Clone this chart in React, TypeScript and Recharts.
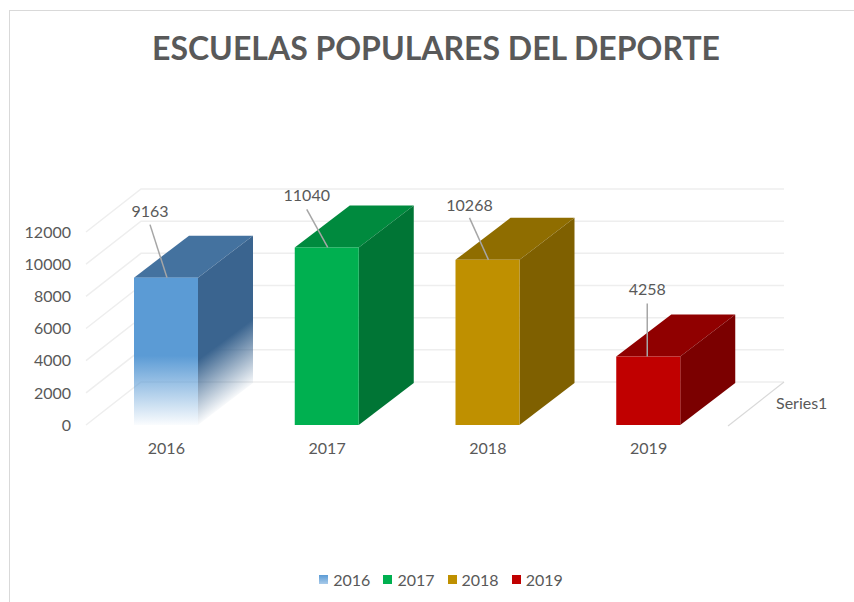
import { Bar, BarChart, CartesianGrid, LabelList, Legend, XAxis, YAxis } from "recharts";

const YEARS = ["2016", "2017", "2018", "2019"];
const VALUES = [9163, 11040, 10268, 4258];
const Y_TICKS = [0, 2000, 4000, 6000, 8000, 10000, 12000];

const FRONT = ["#5B9BD5", "#00B050", "#BF9000", "#C00000"];
const TOP = ["#44729F", "#008A3E", "#8F6D00", "#900000"];
const SIDE = ["#3A648F", "#007535", "#7F6000", "#7B0000"];

const TEXT = "#595959";
const GRID = "#EEEEEE";
const DEPTH_X = 55;
const DEPTH_Y = 42;

// leader line offsets from the top centre of each bar's front face
const LABEL_DX = [-16, -20, -18, -1];
const LABEL_DY = [-67, -52, -55, -68];
const LEADER_DY = [-53, -38, -42, -53];

const rows = YEARS.map((year, i) => ({ year, value: VALUES[i] }));

function Box3D({ x, y, width, height, index }: any) {
  const right = x + width;
  const bottom = y + height;
  const faded = index === 0;
  // the side face fades along the floor direction, not straight down
  const fadeX = right + 32;
  const fadeY = bottom - 65 + 43;
  return (
    <g>
      {faded && (
        <defs>
          <linearGradient id="front-fade" x1="0" y1="0" x2="0" y2="1">
            <stop offset="0.53" stopColor={FRONT[0]} />
            <stop offset="1" stopColor={FRONT[0]} stopOpacity={0.03} />
          </linearGradient>
          <linearGradient
            id="side-fade"
            gradientUnits="userSpaceOnUse"
            x1={right}
            y1={bottom - 65}
            x2={fadeX}
            y2={fadeY}
          >
            <stop offset="0" stopColor={SIDE[0]} />
            <stop offset="1" stopColor={SIDE[0]} stopOpacity={0} />
          </linearGradient>
        </defs>
      )}
      <polygon
        points={`${x},${y} ${x + DEPTH_X},${y - DEPTH_Y} ${right + DEPTH_X},${y - DEPTH_Y} ${right},${y}`}
        fill={TOP[index]}
      />
      <polygon
        points={`${right},${y} ${right + DEPTH_X},${y - DEPTH_Y} ${right + DEPTH_X},${bottom - DEPTH_Y} ${right},${bottom}`}
        fill={faded ? "url(#side-fade)" : SIDE[index]}
      />
      <rect x={x} y={y} width={width} height={height} fill={faded ? "url(#front-fade)" : FRONT[index]} />
    </g>
  );
}

function gridLine({ x1, y1, x2, y2, index }: any) {
  return (
    <g key={index}>
      <polyline
        points={`${x1},${y1} ${x1 + DEPTH_X},${y1 - DEPTH_Y - 1} ${x2 + DEPTH_X},${y2 - DEPTH_Y - 1}`}
        fill="none"
        stroke={GRID}
        strokeWidth={1.5}
      />
      {index === 0 && (
        <>
          <line x1={x2 - 1} y1={y2 + 1} x2={x2 + DEPTH_X} y2={y2 - DEPTH_Y - 1} stroke="#D9D9D9" strokeWidth={1.2} />
          <text x={x2 + 47} y={y2 - 16} fill={TEXT} fontSize={16} fontFamily="Lato">
            Series1
          </text>
        </>
      )}
    </g>
  );
}

function ValueLabel({ x, y, width, value, index }: any) {
  const cx = x + width / 2;
  const tx = cx + LABEL_DX[index];
  return (
    <g>
      <line x1={tx} y1={y + LEADER_DY[index]} x2={cx + (index === 3 ? -1 : 1)} y2={y} stroke="#A6A6A6" strokeWidth={1.5} />
      <text x={tx} y={y + LABEL_DY[index]} dy={6} textAnchor="middle" fill={TEXT} fontSize={16} fontFamily="Lato">
        {value}
      </text>
    </g>
  );
}

function LegendRow() {
  return (
    <div style={{ display: "flex", justifyContent: "center", gap: 13, fontFamily: "Lato", fontSize: 16, color: TEXT }}>
      {YEARS.map((year, i) => (
        <span key={year} style={{ display: "inline-flex", alignItems: "center", gap: 5 }}>
          <span
            style={{
              width: 9,
              height: 9,
              background: i === 0 ? `linear-gradient(${FRONT[0]}, #A9CBEA)` : FRONT[i],
            }}
          />
          {year}
        </span>
      ))}
    </div>
  );
}

export default function App() {
  return (
    <div style={{ position: "absolute", left: 0, top: 0, width: 854, height: 602, background: "#fff", overflow: "hidden" }}>
      <div
        style={{
          position: "absolute",
          left: 9,
          top: 10,
          width: 845,
          height: 592,
          borderLeft: "1.5px solid #D9D9D9",
          borderTop: "1.5px solid #D9D9D9",
          boxSizing: "border-box",
        }}
      />
      <BarChart
        width={854}
        height={602}
        data={rows}
        margin={{ top: 232, right: 125, bottom: 125, left: 26 }}
        style={{ position: "absolute", left: 0, top: 0 }}
      >
        <text x={436} y={60} textAnchor="middle" fill={TEXT} fontSize={32} fontWeight={700} fontFamily="Lato">
          ESCUELAS POPULARES DEL DEPORTE
        </text>
        <CartesianGrid vertical={false} horizontal={gridLine} />
        <XAxis
          dataKey="year"
          axisLine={false}
          tickLine={false}
          height={30}
          tickMargin={12}
          tick={{ fill: TEXT, fontSize: 16, fontFamily: "Lato" }}
        />
        <YAxis
          domain={[0, 12000]}
          ticks={Y_TICKS}
          width={60}
          axisLine={false}
          tickLine={false}
          tickMargin={9}
          tick={{ fill: TEXT, fontSize: 16, fontFamily: "Lato" }}
        />
        <Bar dataKey="value" barSize={64} shape={Box3D} isAnimationActive={false}>
          <LabelList dataKey="value" content={ValueLabel} />
        </Bar>
        <Legend
          content={LegendRow}
          wrapperStyle={{ position: "absolute", left: 14, top: 570, width: 854, height: 22 }}
        />
      </BarChart>
    </div>
  );
}
